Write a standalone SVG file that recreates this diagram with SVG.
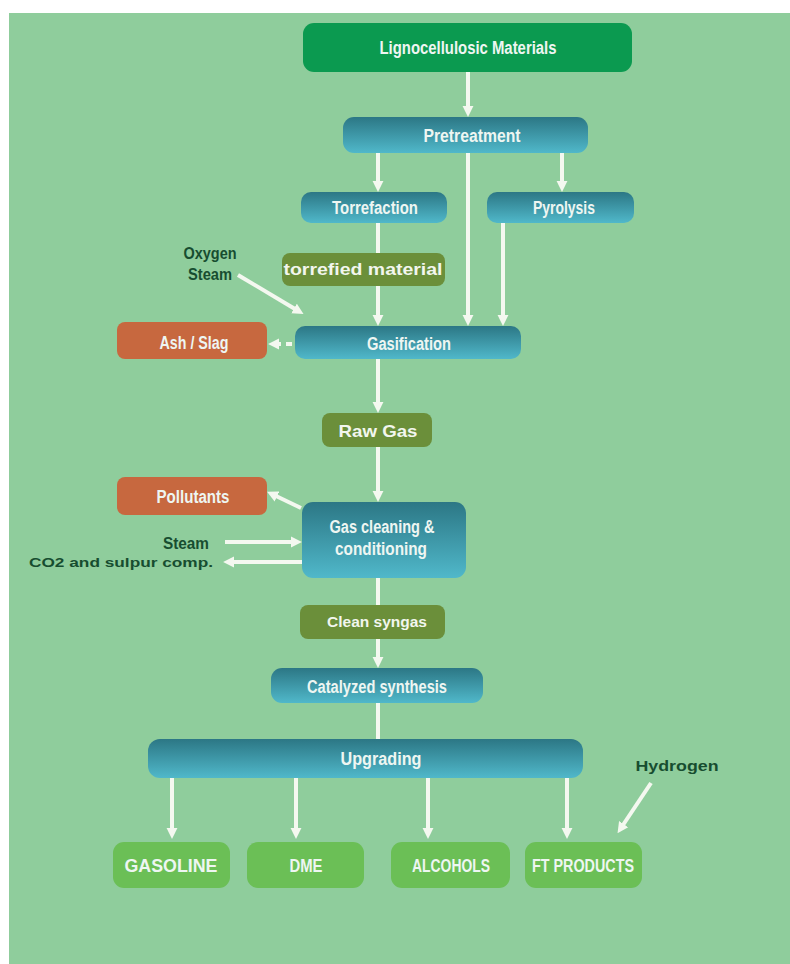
<svg xmlns="http://www.w3.org/2000/svg" width="790" height="964" viewBox="0 0 790 964">
<defs>
<linearGradient id="teal" x1="0" y1="0" x2="0" y2="1">
<stop offset="0" stop-color="#2c7785"/>
<stop offset="1" stop-color="#50b8ca"/>
</linearGradient>
<marker id="ah" viewBox="0 0 10 10" refX="1" refY="5" markerWidth="11" markerHeight="12" markerUnits="userSpaceOnUse" orient="auto">
<path d="M0,0 L10,5 L0,10 z" fill="#f4f8f0"/>
</marker>
<style>
.bg{fill:#8fcd9c}
.dk{fill:#0b9a50}
.tl{fill:url(#teal)}
.ol{fill:#6b8f3a}
.or{fill:#c7683f}
.pr{fill:#6bbf56}
.c{font-family:"Liberation Sans",Arial,sans-serif;font-weight:bold;fill:#eef6f2;text-anchor:middle;font-size:18px}
.a{font-family:"Liberation Sans",Arial,sans-serif;font-weight:bold;fill:#f2f6ee;text-anchor:middle}
.g{font-family:"Liberation Sans",Arial,sans-serif;font-weight:bold;fill:#174d30}
.ln{stroke:#f4f8f0;stroke-width:4;fill:none}
</style>
</defs>
<rect x="0" y="0" width="790" height="964" fill="#ffffff"/>
<rect class="bg" x="9" y="13" width="781" height="951"/>

<g id="connectors">
<line class="ln" x1="468" y1="72" x2="468" y2="107" marker-end="url(#ah)"/>
<line class="ln" x1="378" y1="153" x2="378" y2="182" marker-end="url(#ah)"/>
<line class="ln" x1="562" y1="153" x2="562" y2="182" marker-end="url(#ah)"/>
<line class="ln" x1="468" y1="153" x2="468" y2="316" marker-end="url(#ah)"/>
<line class="ln" x1="378" y1="223" x2="378" y2="253"/>
<line class="ln" x1="378" y1="286" x2="378" y2="316" marker-end="url(#ah)"/>
<line class="ln" x1="503" y1="223" x2="503" y2="316" marker-end="url(#ah)"/>
<line class="ln" x1="238" y1="275" x2="295" y2="309" marker-end="url(#ah)"/>
<line class="ln" x1="292" y1="344" x2="278" y2="344" stroke-dasharray="6,5" marker-end="url(#ah)"/>
<line class="ln" x1="378" y1="359" x2="378" y2="403" marker-end="url(#ah)"/>
<line class="ln" x1="378" y1="447" x2="378" y2="492" marker-end="url(#ah)"/>
<line class="ln" x1="301" y1="508" x2="276" y2="496" marker-end="url(#ah)"/>
<line class="ln" x1="225" y1="542" x2="292" y2="542" marker-end="url(#ah)"/>
<line class="ln" x1="302" y1="562" x2="233" y2="562" marker-end="url(#ah)"/>
<line class="ln" x1="378" y1="578" x2="378" y2="605"/>
<line class="ln" x1="378" y1="639" x2="378" y2="658" marker-end="url(#ah)"/>
<line class="ln" x1="378" y1="703" x2="378" y2="739"/>
<line class="ln" x1="172" y1="778" x2="172" y2="829" marker-end="url(#ah)"/>
<line class="ln" x1="296" y1="778" x2="296" y2="829" marker-end="url(#ah)"/>
<line class="ln" x1="428" y1="778" x2="428" y2="829" marker-end="url(#ah)"/>
<line class="ln" x1="567" y1="778" x2="567" y2="829" marker-end="url(#ah)"/>
<line class="ln" x1="651" y1="783" x2="623" y2="825" marker-end="url(#ah)"/>
</g>

<g id="lignocellulosic">
<rect class="dk" x="303" y="23" width="329" height="49" rx="11"/>
<text class="c" x="468" y="54" font-size="19" textLength="177" lengthAdjust="spacingAndGlyphs">Lignocellulosic Materials</text>
</g>
<g id="pretreatment">
<rect class="tl" x="343" y="117" width="245" height="36" rx="11"/>
<text class="c" x="472" y="142" textLength="97" lengthAdjust="spacingAndGlyphs">Pretreatment</text>
</g>
<g id="torrefaction">
<rect class="tl" x="301" y="192" width="146" height="31" rx="10"/>
<text class="c" x="375" y="214" textLength="86" lengthAdjust="spacingAndGlyphs">Torrefaction</text>
</g>
<g id="pyrolysis">
<rect class="tl" x="487" y="192" width="147" height="31" rx="10"/>
<text class="c" x="564" y="214" textLength="62" lengthAdjust="spacingAndGlyphs">Pyrolysis</text>
</g>
<g id="torrefied">
<rect class="ol" x="282" y="253" width="163" height="33" rx="8"/>
<text class="a" x="363" y="275" font-size="16" textLength="159" lengthAdjust="spacingAndGlyphs">torrefied material</text>
</g>
<g id="oxygen-steam">
<text class="g" x="210" y="259" font-size="16" text-anchor="middle" textLength="53" lengthAdjust="spacingAndGlyphs">Oxygen</text>
<text class="g" x="210" y="280" font-size="16" text-anchor="middle" textLength="44" lengthAdjust="spacingAndGlyphs">Steam</text>
</g>
<g id="ash">
<rect class="or" x="117" y="322" width="150" height="37" rx="8"/>
<text class="c" x="194" y="349" textLength="69" lengthAdjust="spacingAndGlyphs">Ash / Slag</text>
</g>
<g id="gasification">
<rect class="tl" x="295" y="326" width="226" height="33" rx="10"/>
<text class="c" x="409" y="350" textLength="84" lengthAdjust="spacingAndGlyphs">Gasification</text>
</g>
<g id="rawgas">
<rect class="ol" x="322" y="413" width="110" height="34" rx="8"/>
<text class="a" x="378" y="437" font-size="17" textLength="79" lengthAdjust="spacingAndGlyphs">Raw Gas</text>
</g>
<g id="pollutants">
<rect class="or" x="117" y="477" width="150" height="38" rx="8"/>
<text class="c" x="193" y="503" textLength="73" lengthAdjust="spacingAndGlyphs">Pollutants</text>
</g>
<g id="gascleaning">
<rect class="tl" x="302" y="502" width="164" height="76" rx="11"/>
<text class="c" x="382" y="533" textLength="105" lengthAdjust="spacingAndGlyphs">Gas cleaning &amp;</text>
<text class="c" x="381" y="555" textLength="92" lengthAdjust="spacingAndGlyphs">conditioning</text>
</g>
<g id="steam-in">
<text class="g" x="209" y="549" font-size="16" text-anchor="end" textLength="46" lengthAdjust="spacingAndGlyphs">Steam</text>
</g>
<g id="co2-out">
<text class="g" x="213" y="567" font-size="13" text-anchor="end" textLength="184" lengthAdjust="spacingAndGlyphs">CO2 and sulpur comp.</text>
</g>
<g id="cleansyngas">
<rect class="ol" x="300" y="605" width="145" height="34" rx="8"/>
<text class="a" x="377" y="627" font-size="14" textLength="100" lengthAdjust="spacingAndGlyphs">Clean syngas</text>
</g>
<g id="catalyzed">
<rect class="tl" x="271" y="668" width="212" height="35" rx="11"/>
<text class="c" x="377" y="693" textLength="140" lengthAdjust="spacingAndGlyphs">Catalyzed synthesis</text>
</g>
<g id="upgrading">
<rect class="tl" x="148" y="739" width="435" height="39" rx="12"/>
<text class="c" x="381" y="765" textLength="81" lengthAdjust="spacingAndGlyphs">Upgrading</text>
</g>
<g id="hydrogen">
<text class="g" x="677" y="771" font-size="14" text-anchor="middle" textLength="83" lengthAdjust="spacingAndGlyphs">Hydrogen</text>
</g>
<g id="gasoline">
<rect class="pr" x="113" y="842" width="117" height="46" rx="11"/>
<text class="c" x="171" y="872" font-size="19" textLength="93" lengthAdjust="spacingAndGlyphs">GASOLINE</text>
</g>
<g id="dme">
<rect class="pr" x="247" y="842" width="117" height="46" rx="11"/>
<text class="c" x="306" y="872" font-size="19" textLength="33" lengthAdjust="spacingAndGlyphs">DME</text>
</g>
<g id="alcohols">
<rect class="pr" x="391" y="842" width="119" height="46" rx="11"/>
<text class="c" x="451" y="872" font-size="19" textLength="78" lengthAdjust="spacingAndGlyphs">ALCOHOLS</text>
</g>
<g id="ftproducts">
<rect class="pr" x="525" y="842" width="117" height="46" rx="11"/>
<text class="c" x="583" y="872" font-size="19" textLength="102" lengthAdjust="spacingAndGlyphs">FT PRODUCTS</text>
</g>
</svg>
